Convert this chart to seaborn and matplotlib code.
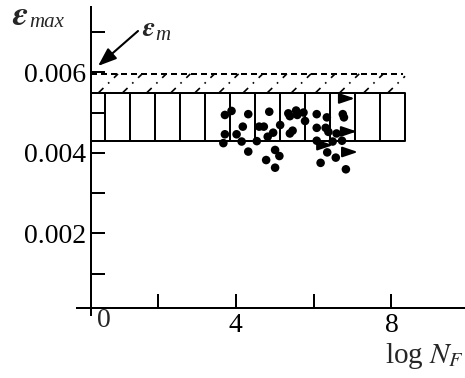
import matplotlib
matplotlib.use("Agg")
import matplotlib.pyplot as plt
import numpy as np
import pandas as pd
import seaborn as sns

# test points (log N_F, strain amplitude)
log_nf = [3.72, 3.89, 4.32, 3.72, 3.68, 4.02, 4.18, 4.15, 4.32, 4.54, 4.60, 4.72,
          4.86, 4.96, 4.82, 5.01, 5.12, 4.78, 5.01, 5.14, 5.35, 5.39, 5.55, 5.58,
          5.74, 5.78, 5.39, 5.46, 6.08, 6.08, 6.08, 6.34, 6.31, 6.38, 6.35, 6.18,
          6.57, 6.59, 6.49, 6.73, 6.75, 6.78, 6.83]
eps_max = [0.00494, 0.00504, 0.00496, 0.00446, 0.00424, 0.00446, 0.00465, 0.00428,
           0.00403, 0.00429, 0.00465, 0.00465, 0.00502, 0.00450, 0.00440, 0.00407,
           0.00392, 0.00382, 0.00363, 0.00469, 0.00498, 0.00491, 0.00505, 0.00494,
           0.00500, 0.00479, 0.00448, 0.00455, 0.00496, 0.00462, 0.00430, 0.00488,
           0.00462, 0.00452, 0.00401, 0.00375, 0.00388, 0.00448, 0.00428, 0.00430,
           0.00496, 0.00488, 0.00359]

# run-outs (arrows)
runout_start = [6.72, 6.77, 6.77, 6.16]
runout_end = [7.06, 7.11, 7.14, 6.50]
runout_eps = [0.00535, 0.00453, 0.00402, 0.00419]

# band limits
eps_m = 0.00596
box_top = 0.00548
box_bottom = 0.0043

y_ticks = [0.001, 0.002, 0.003, 0.004, 0.005, 0.006, 0.007]
y_labels = ["", "0.002", "", "0.004", "", "0.006", ""]
x_ticks = [2, 4, 6, 8]
x_labels = ["", "4", "", "8"]

df = pd.DataFrame({"logN": log_nf, "eps": eps_max})

sns.set_style("ticks")
plt.rcParams["font.family"] = ["Liberation Serif", "DejaVu Serif"]
plt.rcParams["mathtext.fontset"] = "stix"

fig = plt.figure(figsize=(4.65, 3.78), dpi=100)
ax = fig.add_axes([0, 0, 1, 1])
ax.set_facecolor("white")
ax.set_xlim(-2.062, 9.892)
ax.set_ylim(-0.001595, 0.007796)

lw = 1.44
x_axis = 0.278

# spines
for s in ["top", "right"]:
    ax.spines[s].set_visible(False)
ax.spines["left"].set_position(("data", x_axis))
ax.spines["left"].set_bounds(-0.00003, 0.00762)
ax.spines["bottom"].set_position(("data", 0.000144))
ax.spines["bottom"].set_bounds(-0.08, 9.9)
for s in ["left", "bottom"]:
    ax.spines[s].set_linewidth(lw)
    ax.spines[s].set_color("black")

ax.set_yticks(y_ticks)
ax.set_yticklabels(y_labels)
ax.set_xticks(x_ticks)
ax.set_xticklabels(x_labels)
ax.tick_params(axis="both", direction="in", length=10, width=lw,
               labelsize=20, colors="black")
ax.tick_params(axis="y", pad=3.6)
ax.tick_params(axis="x", pad=3.6)
ax.text(0.61, 0.000144, "0", fontsize=20, ha="center", va="top")

# hatched band between box top and eps_m
x_right = 8.35
ax.plot([x_axis, 8.30], [eps_m, eps_m], color="black", lw=lw,
        linestyle=(0, (3, 2)))
for x0 in np.linspace(0.458, 0.458 + 12 * 0.62, 13):
    x1 = min(x0 + 0.514, x_right)
    y1 = box_top + (eps_m - box_top) * (x1 - x0) / 0.514
    ax.plot([x0, x1], [box_top, y1], color="black", lw=1.2,
            linestyle=(0, (4.5, 3.9, 1.0, 3.9)), solid_capstyle="butt")

# box with cells
ax.plot([x_axis, x_right], [box_top, box_top], color="black", lw=lw)
ax.plot([x_axis, x_right], [box_bottom, box_bottom], color="black", lw=lw)
ax.vlines(np.linspace(0.6375, x_right, 13), box_bottom, box_top,
          color="black", lw=lw)

# data
sns.scatterplot(data=df, x="logN", y="eps", ax=ax, s=38, color="black",
                edgecolor="none", zorder=5, legend=False)
for xs, xe, ye in zip(runout_start, runout_end, runout_eps):
    ax.annotate("", xy=(xe, ye), xytext=(xs, ye),
                arrowprops=dict(arrowstyle="-|>,head_length=0.65,head_width=0.22",
                                color="black", lw=1.5, mutation_scale=14,
                                shrinkA=0, shrinkB=0), zorder=6)

# labels
eps_font = dict(family="STIXGeneral", style="italic", weight="bold")
ax.text(-1.75, 0.007175, "\u03b5", fontsize=25, ha="left", va="baseline",
        **eps_font)
ax.text(-1.30, 0.007125, "max", fontsize=15, ha="left", va="baseline",
        style="italic")
ax.text(1.60, 0.0069, "\u03b5", fontsize=20, ha="left", va="baseline",
        **eps_font)
ax.text(1.93, 0.0068, "m", fontsize=15, ha="left", va="baseline",
        style="italic")
ax.annotate("", xy=(0.458, 0.006157), xytext=(1.486, 0.007026),
            arrowprops=dict(arrowstyle="-|>,head_length=0.8,head_width=0.3",
                            color="black", lw=1.5, mutation_scale=14,
                            shrinkA=0, shrinkB=0))
ax.text(7.83, -0.00122, r"log $N_F$", fontsize=21, ha="left", va="baseline")

ax.set_xlabel("")
ax.set_ylabel("")

fig.savefig("out.png", dpi=100)
